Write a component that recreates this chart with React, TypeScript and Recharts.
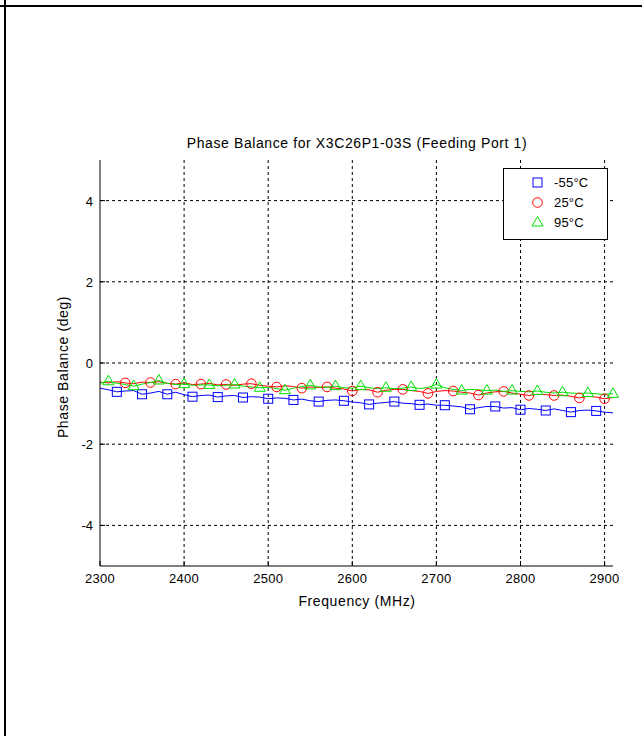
import React from 'react';
import { LineChart, Line, XAxis, YAxis, CartesianGrid, Legend } from 'recharts';

// frequency points (MHz)
const freq = [
  2300, 2310, 2320, 2330, 2340, 2350, 2360, 2370, 2380, 2390,
  2400, 2410, 2420, 2430, 2440, 2450, 2460, 2470, 2480, 2490,
  2500, 2510, 2520, 2530, 2540, 2550, 2560, 2570, 2580, 2590,
  2600, 2610, 2620, 2630, 2640, 2650, 2660, 2670, 2680, 2690,
  2700, 2710, 2720, 2730, 2740, 2750, 2760, 2770, 2780, 2790,
  2800, 2810, 2820, 2830, 2840, 2850, 2860, 2870, 2880, 2890,
  2900, 2910,
];

// phase balance (deg) per temperature
const tempM55 = [
  -0.62, -0.66, -0.71, -0.69, -0.68, -0.77, -0.74, -0.70, -0.77, -0.72,
  -0.78, -0.83, -0.80, -0.79, -0.84, -0.81, -0.80, -0.85, -0.83, -0.84,
  -0.88, -0.86, -0.87, -0.91, -0.89, -0.93, -0.95, -0.92, -0.91, -0.93,
  -0.96, -0.98, -1.02, -0.99, -0.97, -0.95, -0.99, -1.00, -1.03, -1.01,
  -1.04, -1.04, -1.06, -1.08, -1.14, -1.10, -1.07, -1.07, -1.11, -1.10,
  -1.15, -1.12, -1.14, -1.17, -1.13, -1.17, -1.21, -1.17, -1.16, -1.18,
  -1.21, -1.23,
];
const temp25 = [
  -0.47, -0.49, -0.46, -0.49, -0.51, -0.47, -0.48, -0.46, -0.50, -0.52,
  -0.49, -0.53, -0.52, -0.50, -0.54, -0.53, -0.55, -0.52, -0.51, -0.55,
  -0.57, -0.59, -0.56, -0.58, -0.62, -0.59, -0.60, -0.59, -0.62, -0.64,
  -0.69, -0.65, -0.66, -0.72, -0.67, -0.65, -0.65, -0.68, -0.70, -0.75,
  -0.70, -0.68, -0.69, -0.72, -0.74, -0.79, -0.74, -0.71, -0.70, -0.74,
  -0.77, -0.80, -0.77, -0.78, -0.80, -0.79, -0.82, -0.86, -0.82, -0.84,
  -0.88, -0.85,
];
const temp95 = [
  -0.50, -0.45, -0.50, -0.53, -0.57, -0.52, -0.48, -0.43, -0.50, -0.53,
  -0.52, -0.55, -0.54, -0.54, -0.56, -0.55, -0.53, -0.57, -0.59, -0.61,
  -0.60, -0.63, -0.67, -0.62, -0.58, -0.55, -0.59, -0.60, -0.57, -0.61,
  -0.62, -0.57, -0.61, -0.63, -0.61, -0.63, -0.62, -0.59, -0.63, -0.60,
  -0.53, -0.61, -0.65, -0.68, -0.65, -0.66, -0.68, -0.67, -0.70, -0.68,
  -0.70, -0.71, -0.69, -0.72, -0.74, -0.72, -0.74, -0.75, -0.74, -0.76,
  -0.77, -0.76,
];

const xTicks = [2300, 2400, 2500, 2600, 2700, 2800, 2900];
const yTicks = [-4, -2, 0, 2, 4];
const seriesNames = ['-55°C', '25°C', '95°C'];

const data = freq.map((f, i) => ({ f, m55: tempM55[i], t25: temp25[i], t95: temp95[i] }));

const FONT = '"Liberation Sans", Arial, sans-serif';
const BLUE = '#0000ff';
const RED = '#ff0000';
const GREEN = '#00e000';

// markers on every third sample, offset per series
const SquareDot = (p: any) => {
  const { cx, cy, index } = p;
  if (cx == null || index % 3 !== 2) return <g key={`s${index}`} />;
  return <rect key={`s${index}`} x={cx - 4.5} y={cy - 4.5} width={9} height={9} fill="none" stroke={BLUE} strokeWidth={1} />;
};
const CircleDot = (p: any) => {
  const { cx, cy, index } = p;
  if (cx == null || index % 3 !== 0 || index === 0) return <g key={`c${index}`} />;
  return <circle key={`c${index}`} cx={cx} cy={cy} r={4.8} fill="none" stroke={RED} strokeWidth={1} />;
};
const TriDot = (p: any) => {
  const { cx, cy, index } = p;
  if (cx == null || index % 3 !== 1) return <g key={`t${index}`} />;
  return (
    <polygon
      key={`t${index}`}
      points={`${cx},${cy - 6} ${cx - 5.5},${cy + 3.5} ${cx + 5.5},${cy + 3.5}`}
      fill="none"
      stroke={GREEN}
      strokeWidth={1}
    />
  );
};

const BottomTick = ({ x, y, payload }: any) => (
  <g>
    <line x1={x} y1={y} x2={x} y2={y - 5} stroke="#000" />
    <text x={x} y={y + 17} textAnchor="middle" fontSize={13} fontFamily={FONT} fill="#000" letterSpacing={0.3}>
      {payload.value}
    </text>
  </g>
);
const TopTick = ({ x, y }: any) => <line x1={x} y1={y} x2={x} y2={y + 5} stroke="#000" />;
const LeftTick = ({ x, y, payload }: any) => (
  <g>
    <line x1={x} y1={y} x2={x + 5} y2={y} stroke="#000" />
    <text x={x - 7} y={y + 5} textAnchor="end" fontSize={13} fontFamily={FONT} fill="#000">
      {payload.value}
    </text>
  </g>
);
const RightTick = ({ x, y }: any) => <line x1={x} y1={y} x2={x - 5} y2={y} stroke="#000" />;

const LegendBox = () => {
  const rows = [
    { name: seriesNames[0], mark: <rect x={29} y={10} width={9} height={9} fill="none" stroke={BLUE} /> },
    { name: seriesNames[1], mark: <circle cx={33.5} cy={14.5} r={4.8} fill="none" stroke={RED} /> },
    { name: seriesNames[2], mark: <polygon points="33.5,8.5 28,18 39,18" fill="none" stroke={GREEN} /> },
  ];
  return (
    <div style={{ width: 105, height: 72, border: '1px solid #000', background: '#fff', boxSizing: 'border-box', paddingTop: 3 }}>
      {rows.map((r) => (
        <div key={r.name} style={{ display: 'flex', alignItems: 'center', height: 20 }}>
          <svg width={50} height={20} viewBox="0 4 50 20" style={{ flex: 'none' }}>{r.mark}</svg>
          <span style={{ fontFamily: FONT, fontSize: 13, letterSpacing: 0.2, color: '#000' }}>{r.name}</span>
        </div>
      ))}
    </div>
  );
};

const labelStyle: React.CSSProperties = {
  position: 'absolute', textAlign: 'center', fontFamily: FONT, fontSize: 14,
  lineHeight: '18px', letterSpacing: 0.6, color: '#000', whiteSpace: 'nowrap',
};

export default function App() {
  return (
    <div style={{ position: 'absolute', left: 0, top: 0, width: 642, height: 736, background: '#fff' }}>
      <div style={{ position: 'absolute', left: 0, top: 5, width: 642, height: 2, background: '#000' }} />
      <div style={{ position: 'absolute', left: 4, top: 0, width: 2, height: 736, background: '#000' }} />

      <div style={{ ...labelStyle, left: 107, top: 134, width: 500 }}>
        Phase Balance for X3C26P1-03S (Feeding Port 1)
      </div>
      <div style={{ ...labelStyle, left: 257, top: 592, width: 200 }}>
        Frequency (MHz)
      </div>
      <div style={{ ...labelStyle, left: 63 - 100, top: 367 - 9, width: 200, transform: 'rotate(-90deg)' }}>
        Phase Balance (deg)
      </div>

      <div style={{ position: 'absolute', left: 0, top: 0 }}>
        <LineChart width={642} height={736} data={data} margin={{ top: 160, right: 29, bottom: 140, left: 0 }}>
          <CartesianGrid stroke="#000" strokeDasharray="3 3" verticalValues={xTicks.slice(1)} horizontalValues={yTicks} />
          <XAxis
            dataKey="f"
            type="number"
            domain={[2300, 2910]}
            ticks={xTicks}
            height={30}
            tickSize={0}
            tickMargin={0}
            tickLine={false}
            axisLine={{ stroke: '#000' }}
            tick={<BottomTick />}
            interval={0}
          />
          <XAxis
            xAxisId="top"
            orientation="top"
            dataKey="f"
            type="number"
            domain={[2300, 2910]}
            ticks={xTicks}
            height={0}
            tickSize={0}
            tickMargin={0}
            tickLine={false}
            axisLine={{ stroke: '#000' }}
            tick={<TopTick />}
            interval={0}
          />
          <YAxis
            type="number"
            domain={[-5, 5]}
            ticks={yTicks}
            width={100}
            tickSize={0}
            tickMargin={0}
            tickLine={false}
            axisLine={{ stroke: '#000' }}
            tick={<LeftTick />}
            interval={0}
          />
          <YAxis
            yAxisId="right"
            orientation="right"
            type="number"
            domain={[-5, 5]}
            ticks={yTicks}
            width={0}
            tickSize={0}
            tickMargin={0}
            tickLine={false}
            axisLine={{ stroke: '#000' }}
            tick={<RightTick />}
            interval={0}
          />
          <Line dataKey="m55" name={seriesNames[0]} stroke={BLUE} strokeWidth={1} dot={SquareDot} isAnimationActive={false} />
          <Line dataKey="t25" name={seriesNames[1]} stroke={RED} strokeWidth={1} dot={CircleDot} isAnimationActive={false} />
          <Line dataKey="t95" name={seriesNames[2]} stroke={GREEN} strokeWidth={1} dot={TriDot} isAnimationActive={false} />
          <Legend
            layout="vertical"
            align="center"
            verticalAlign="middle"
            content={<LegendBox />}
            wrapperStyle={{ left: 503, top: 168, width: 105, height: 72 }}
          />
        </LineChart>
      </div>
    </div>
  );
}
